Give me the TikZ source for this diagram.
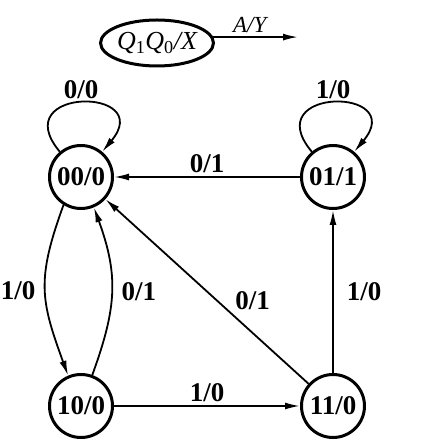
\documentclass[tikz,border=0pt]{standalone}
\usepackage{fontspec}
\setmainfont{Liberation Serif}
\usetikzlibrary{arrows.meta,positioning,shapes.geometric}

\begin{document}
\begin{tikzpicture}[
		x=1pt, y=1pt,
		>={Latex[length=15pt,width=7pt]},
		node distance=229pt and 252pt,
		on grid,
		state/.style={draw, circle, line width=3pt, minimum size=63pt, inner sep=0pt, font=\fontsize{27}{32}\selectfont\bfseries},
		key/.style={draw, ellipse, line width=3pt, minimum width=106pt, minimum height=46pt, inner sep=0pt, font=\fontsize{26}{30}\selectfont\itshape},
		trans/.style={->, line width=1.8pt},
		lbl/.style={font=\fontsize{27}{32}\selectfont\bfseries, inner sep=3pt}
		]
		\useasboundingbox (0,0) rectangle (434,446);
		
		\node[state] (s00) at (81,269) {00/0};
		\node[state, right=of s00] (s01) {01/1};
		\node[state, below=of s00] (s10) {10/0};
		\node[state, right=of s10] (s11) {11/0};
		
		% legend: state / output, input / output
		\node[key, above right=134pt and 76pt of s00] (legend) {Q\textsubscript{\upshape 1}Q\textsubscript{\upshape 0}/X};
		\coordinate[right=141pt of legend] (legendend);
		\draw[trans] (legend.6) -- node[pos=0.43, above, font=\fontsize{23}{28}\selectfont\itshape] {A/Y} (legendend |- legend.6);
		
		% self loops
		\draw[trans] (s00.130) .. controls +(130:85) and +(50:85) .. node[lbl, above] {0/0} (s00.50);
		\draw[trans] (s01.130) .. controls +(130:85) and +(50:85) .. node[lbl, above] {1/0} (s01.50);
		
		\draw[trans] (s01) -- node[lbl, above] {0/1} (s00);
		\draw[trans] (s10) -- node[lbl, above] {1/0} (s11);
		\draw[trans] (s11) -- node[lbl, right=10pt] {1/0} (s01);
		\draw[trans] (s11) -- node[lbl, pos=0.38, above right] {0/1} (s00);
		
		\draw[trans] (s00.238) to[out=250, in=110, looseness=1.2] node[lbl, left=6pt] {1/0} (s10.113);
		\draw[trans] (s10.70) to[out=70, in=290, looseness=1.1] node[lbl, right=6pt] {0/1} (s00.293);
	\end{tikzpicture}
\end{document}
